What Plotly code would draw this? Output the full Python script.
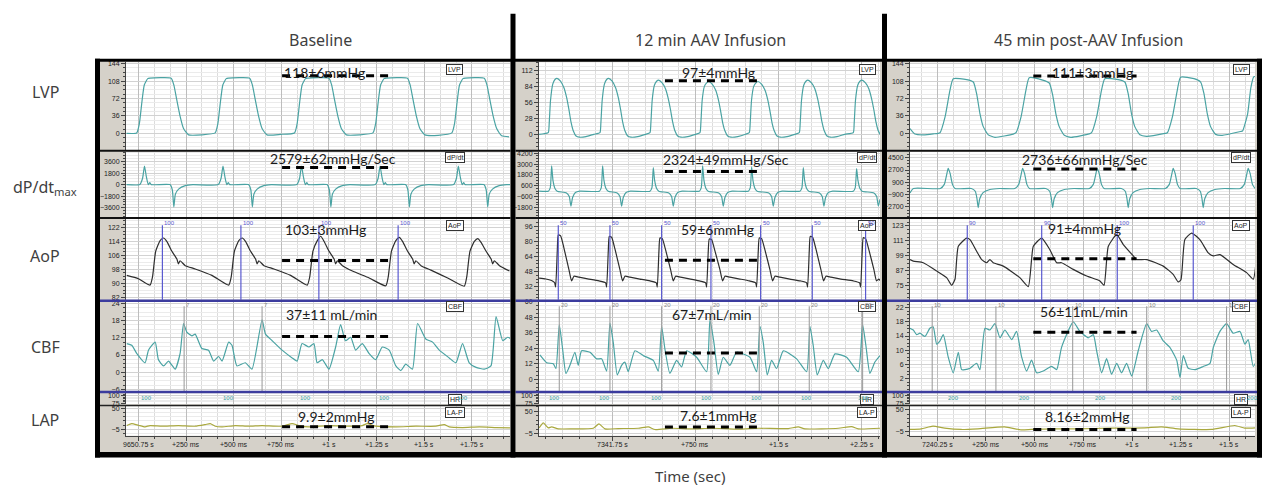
import plotly.graph_objects as go

# ========================= DATA =========================
col_titles = ["Baseline", "12 min AAV Infusion", "45 min post-AAV Infusion"]
row_labels = ["LVP", "dP/dt<sub>max</sub>", "AoP", "CBF", "LAP"]
channel_tags = ["LVP", "dP/dt", "AoP", "CBF", "HR", "LA-P"]
x_title = "Time (sec)"

# time axis (ms relative to the first labelled tick)
base_ticks_ms = [0, 250, 500, 750, 1000, 1250, 1500, 1750]
base_tick_text = ["9650.75 s", "+250 ms", "+500 ms", "+750 ms", "+1 s", "+1.25 s", "+1.5 s", "+1.75 s"]
mid_ticks_ms = [0, 750, 1500, 2250]
mid_tick_text = ["7341.75 s", "+750 ms", "+1.5 s", "+2.25 s"]
post_ticks_ms = [0, 250, 500, 750, 1000, 1250, 1500]
post_tick_text = ["7240.25 s", "+250 ms", "+500 ms", "+750 ms", "+1 s", "+1.25 s", "+1.5 s"]

# summary statistics (LVP, dP/dt, AoP, CBF, LAP)
base_stats = ["118±6mmHg", "2579±62mmHg/Sec", "103±3mmHg", "37±11 mL/min", "9.9±2mmHg"]
mid_stats = ["97±4mmHg", "2324±49mmHg/Sec", "59±6mmHg", "67±7mL/min", "7.6±1mmHg"]
post_stats = ["111±3mmHg", "2736±66mmHg/Sec", "91±4mmHg", "56±11mL/min", "8.16±2mmHg"]
# dashed reference levels (in each panel's axis units) and their time span (ms)
base_levels = [119, 2673, 103, 12.5, 1.8]
mid_levels = [94, 2182, 60, 20.4, 11.4]
post_levels = [118.7, 2856, 96.6, 15.1, -0.8]
base_span = [754, 1315]
mid_span = [475, 1332]
post_span = [493, 1023]

# ---------------- Baseline waveforms ----------------
base_lvp_t = [-62, -9, 5, 17, 31, 49, 61, 172, 186, 201, 219, 237, 263, 333,
              403, 417, 429, 443, 461, 473, 584, 598, 613, 631, 649, 675, 745,
              819, 833, 845, 859, 877, 889, 1000, 1014, 1029, 1047, 1065, 1091, 1161,
              1231, 1245, 1257, 1271, 1289, 1301, 1412, 1426, 1441, 1459, 1477, 1503, 1573,
              1645, 1659, 1671, 1685, 1703, 1715, 1815, 1829, 1844, 1862, 1880, 1906, 1945]
base_lvp_v = [0, 1, 20, 60, 100, 113, 114, 114, 100, 70, 35, 10, -3, -3,
              1, 20, 60, 100, 113, 114, 114, 100, 70, 35, 10, -3, -2,
              1, 20, 60, 100, 113, 114, 114, 100, 70, 35, 10, -3, -3,
              1, 20, 60, 100, 113, 114, 114, 100, 70, 35, 10, -3, -4,
              1, 20, 60, 100, 113, 114, 114, 100, 70, 35, 10, -5, -7]

base_dpdt_t = [-62,
               7, 22, 32, 42, 52, 60, 68, 166, 178, 186, 194, 211, 246, 286,
               419, 434, 444, 454, 464, 472, 480, 578, 590, 598, 606, 623, 658, 698,
               831, 846, 856, 866, 876, 884, 892, 990, 1002, 1010, 1018, 1035, 1070, 1110,
               1243, 1258, 1268, 1278, 1288, 1296, 1304, 1402, 1414, 1422, 1430, 1447, 1482, 1522,
               1654, 1669, 1679, 1689, 1699, 1707, 1715, 1813, 1825, 1833, 1841, 1858, 1893, 1933, 1950]
base_dpdt_v = [0,
               0, 1000, 2900, 1200, 0, 300, 0, 0, -800, -3500, -1500, -700, -150, 0,
               0, 1000, 2900, 1200, 0, 300, 0, 0, -800, -3500, -1500, -700, -150, 0,
               0, 1000, 2900, 1200, 0, 300, 0, 0, -800, -3500, -1500, -700, -150, 0,
               0, 1000, 2900, 1200, 0, 300, 0, 0, -800, -3500, -1500, -700, -150, 0,
               0, 1000, 2900, 1200, 0, 300, 0, 0, -800, -3500, -1500, -700, -150, 0, 0]

base_aop_t = [-61, 0, 61, 74, 91, 114, 132, 149, 175, 202, 210, 219, 246, 298, 386,
              474, 487, 504, 527, 545, 562, 588, 615, 623, 632, 659, 711, 799,
              886, 899, 916, 939, 957, 974, 1000, 1027, 1035, 1044, 1071, 1123, 1211,
              1298, 1311, 1328, 1351, 1369, 1386, 1412, 1439, 1447, 1456, 1483, 1535, 1623,
              1710, 1723, 1740, 1763, 1781, 1798, 1824, 1851, 1859, 1868, 1895, 1947]
base_aop_v = [94.5, 92.6, 88.9, 93.6, 108.5, 114.5, 116, 114.1, 108.5, 103.9, 101.1, 102.9, 100.1, 98.2, 94.5,
              88.9, 93.6, 108.5, 114.5, 116, 114.1, 108.5, 103.9, 101.1, 102.9, 100.1, 98.2, 94.5,
              88.9, 93.6, 108.5, 114.5, 117, 114.1, 108.5, 103.9, 101.1, 102.9, 100.1, 97, 93,
              88.5, 93.6, 108.5, 114.5, 116.4, 114.1, 108.5, 103.9, 101.1, 102.9, 100.1, 97.5, 93,
              88.3, 93.6, 108.5, 114, 115.6, 113.5, 108.5, 103.9, 101.1, 102.9, 100.1, 97]

base_cbf_t = [-61, -35, -9, 35, 53, 88, 105, 132, 158, 193, 219, 237, 254, 281, 298, 333, 368, 395, 421, 439,
              474, 491, 517, 561, 596, 649, 667, 702, 754, 807, 833, 859, 895, 921, 938, 965, 1000, 1035, 1061, 1087,
              1114, 1140, 1175, 1210, 1245, 1280, 1316, 1351, 1377, 1403, 1438, 1465, 1508, 1544, 1579, 1631, 1666,
              1701, 1736, 1772, 1815, 1850, 1877, 1912, 1938, 1956]
base_cbf_v = [10.0, 9.4, 6.6, 3.3, 7.7, 10.5, 4.4, 2.2, 3.9, 1.1, 6.6, 17.0, 14.0, 12.7, 13.3, 8.3, 7.7, 3.9, 5.5, 3.9,
              10.5, 9.4, 2.2, 3.3, 1.1, 18.3, 13.3, 11.0, 7.7, 5.0, 3.9, 10.0, 8.8, 10.0, 3.3, 4.4, 1.1, 8.8, 16.6, 11.0,
              12.2, 7.7, 10.0, 6.6, 4.4, 8.8, 7.7, 2.2, 0.6, 2.8, 1.1, 17.0, 11.6, 10.5, 7.7, 5.0, 3.3,
              10.0, 3.3, 1.7, 1.1, 2.2, 19.4, 11.0, 12.2, 11.6]

base_lap_t = [-61, -35, 0, 35, 61, 123, 210, 298, 351, 377, 403, 439, 509, 579, 649, 754, 807, 842, 895, 1000,
              1105, 1175, 1201, 1245, 1351, 1456, 1561, 1605, 1631, 1701, 1789, 1877, 1950]
base_lap_v = [5.2, 10.2, 6.0, 1.8, 5.2, 3.5, 5.2, 3.5, 7.7, 10.2, 3.5, 1.8, 5.2, 3.5, 5.2, 3.5, 10.2, 5.2, 1.8, 5.2,
              3.5, 5.2, 10.2, 3.5, 1.8, 3.5, 3.5, 7.7, 1.8, 0.1, 1.8, 0.1, -0.8]

base_aop_marks = [126, 538, 947, 1363]
base_aop_mark_lab = ["100", "100", "100", "100"]
base_cbf_marks = [240, 649]
base_cbf_mark_lab = ["7", "7"]
base_hr_t = [44, 474, 877, 1289, 1701]
base_hr_lab = ["100", "100", "100", "100", "100"]

# ---------------- 12 min AAV infusion waveforms ----------------
mid_lvp_t = [-660, -620,
             -577, -569, -557, -537, -517, -499, -467, -437, -412, -392, -372, -352, -327, -297, -237, -167,
             -111, -103, -91, -71, -51, -33, -1, 29, 54, 74, 94, 114, 139, 169, 229, 299,
             340, 348, 360, 380, 400, 418, 450, 480, 505, 525, 545, 565, 590, 620, 680, 750,
             791, 799, 811, 831, 851, 869, 901, 931, 956, 976, 996, 1016, 1041, 1071, 1131, 1201,
             1236, 1244, 1256, 1276, 1296, 1314, 1346, 1376, 1401, 1421, 1441, 1461, 1486, 1516, 1576, 1646,
             1687, 1695, 1707, 1727, 1747, 1765, 1797, 1827, 1852, 1872, 1892, 1912, 1937, 1967, 2027, 2097,
             2174, 2182, 2194, 2214, 2234, 2252, 2284, 2314, 2339, 2359, 2379, 2399, 2420]
mid_lvp_v = [1, 2,
             4, 20, 60, 88, 96, 98, 93, 82, 65, 45, 22, 7, -2, -4, -3, 1,
             4, 20, 60, 88, 96, 98, 93, 82, 65, 45, 22, 7, -2, -4, -3, 1,
             4, 20, 60, 86, 93, 95, 90, 80, 63, 44, 22, 7, -2, -4, -3, 1,
             4, 20, 60, 84, 90, 92.5, 88, 78, 62, 43, 21, 7, -2, -4, -3, 1,
             4, 20, 60, 84, 90, 92.5, 88, 78, 62, 43, 21, 7, -2, -4, -3, 1,
             4, 20, 60, 86, 93, 95, 90, 80, 63, 44, 22, 7, -2, -4, -3, 1,
             4, 20, 60, 86, 93, 95, 90, 80, 63, 44, 22, 7, 0]

mid_dpdt_t = [-660,
              -577, -559, -547, -535, -517, -497, -413, -388, -373, -358, -333, -293,
              -117, -99, -87, -75, -57, -37, 44, 69, 84, 99, 124, 164,
              340, 358, 370, 382, 400, 420, 510, 535, 550, 565, 590, 630,
              785, 803, 815, 827, 845, 865, 961, 986, 1001, 1016, 1041, 1081,
              1227, 1245, 1257, 1269, 1287, 1307, 1412, 1437, 1452, 1467, 1492, 1532,
              1693, 1711, 1723, 1735, 1753, 1773, 1869, 1894, 1909, 1924, 1949, 1989,
              2174, 2192, 2204, 2216, 2234, 2254, 2360, 2385, 2400, 2415]
mid_dpdt_v = [0,
              0, 400, 2800, 1200, 300, 0, -200, -600, -1650, -700, -150, 0,
              0, 400, 2800, 1200, 300, 0, -200, -600, -1650, -700, -150, 0,
              0, 400, 2600, 1200, 300, 0, -200, -600, -1650, -700, -150, 0,
              0, 400, 2800, 1200, 300, 0, -200, -600, -1650, -700, -150, 0,
              0, 400, 2700, 1200, 300, 0, -200, -600, -1650, -700, -150, 0,
              0, 400, 2600, 1200, 300, 0, -200, -600, -1650, -700, -150, 0,
              0, 400, 2500, 1200, 300, 0, -200, -600, -1650, -900]

mid_aop_t = [-660, -600, -540, -520, -511, -496, -487, -466, -436, -391, -367, -346, -301, -211, -120,
             -60, -51, -36, -27, -6, 24, 69, 93, 114, 159, 249, 340,
             397, 406, 421, 430, 451, 481, 526, 550, 571, 616, 706, 785,
             842, 851, 866, 875, 896, 926, 971, 995, 1016, 1061, 1151, 1236,
             1293, 1302, 1317, 1326, 1347, 1377, 1422, 1446, 1467, 1512, 1602, 1696,
             1753, 1762, 1777, 1786, 1807, 1837, 1882, 1906, 1927, 1972, 2062, 2174,
             2231, 2240, 2255, 2264, 2285, 2315, 2360, 2384, 2405, 2420]
mid_aop_v = [41, 40, 38, 36, 31.5, 70, 87, 86, 73, 50, 38, 43, 42, 40, 38,
             36, 31.5, 70, 85.4, 84.5, 72, 50, 38, 43, 42, 40, 38,
             36, 31.5, 70, 83.7, 83, 71, 50, 38, 43, 42, 40, 38,
             36, 31.5, 70, 82.6, 82, 70, 50, 38, 43, 42, 40, 38,
             36, 31.5, 70, 83.7, 83, 71, 50, 38, 43, 42, 40, 38,
             36, 31.5, 70, 85.4, 84.5, 72, 50, 38, 43, 42, 40, 38,
             36, 31.5, 70, 84, 83, 71, 50, 38, 40, 38]

mid_cbf_t = [-653, -592, -532, -508, -478, -448, -418, -382, -337, -307, -277, -201, -141, -96, -51, -21, 9, 45,
             84, 114, 144, 204, 280, 370, 415, 445, 475, 520, 580, 625, 671, 761, 851, 881, 917, 956, 1001, 1061,
             1122, 1242, 1302, 1332, 1362, 1398, 1437, 1482, 1543, 1663, 1753, 1783, 1813, 1849, 1903, 1949, 2009,
             2114, 2219, 2258, 2288, 2324, 2369, 2415]
mid_cbf_v = [18.8, 12.8, 12.0, 8.3, 42.2, 23.4, 4.5, 10.8, 20.9, 10.8, 22.0, 20.9, 15.8, 15.8, 6.3, 43.5, 28.4, 3.3,
             10.8, 13.3, 5.8, 22.0, 18.3, 14.6, 6.3, 41.0, 23.4, 4.5, 14.6, 9.5, 22.0, 17.0, 5.8, 46.0, 28.4, 3.8, 17.0,
             10.8, 20.9, 17.0, 5.8, 41.0, 28.4, 3.3, 14.6, 8.3, 22.0, 15.8, 5.8, 41.0, 25.9, 3.3, 14.6, 8.3, 19.6,
             17.0, 5.8, 42.2, 25.9, 4.5, 13.3, 18.3]

mid_lap_t = [-660, -622, -577, -547, -487, -366, -171, -120, -66, 54, 235, 325, 385, 535, 716, 896, 1136, 1317,
             1587, 1678, 1738, 2039, 2159, 2219, 2415]
mid_lap_v = [9, 21.3, 9, 11.4, 6.5, 6.5, 8.1, 18.8, 6.5, 7.3, 8.1, 11.4, 4.9, 8.1, 6.5, 8.1, 5.7, 8.1,
             7.3, 11.4, 6.5, 8.1, 12.2, 6.5, 8.1]

mid_aop_marks = [-487, -21, 445, 890, 1338, 1804, 2285]
mid_aop_mark_lab = ["50", "50", "50", "50", "50", "50", "50"]
mid_cbf_marks = [-478, -21, 445, 890, 1326, 1777, 2258]
mid_cbf_mark_lab = ["20", "20", "20", "20", "20", "20", "20"]
mid_hr_t = [-517, -66, 400, 851, 1302, 1753, 2264]
mid_hr_lab = ["100", "100", "100", "100", "100", "100", "100"]

# ---------------- 45 min post-AAV infusion waveforms ----------------
post_lvp_t = [-140, -115, -72, -21,
              14, 40, 65, 82, 151, 185, 202, 219, 236, 262, 296, 390,
              404, 430, 455, 472, 541, 575, 592, 609, 626, 652, 686, 780,
              792, 818, 843, 860, 929, 963, 980, 997, 1014, 1040, 1074, 1168,
              1181, 1207, 1232, 1249, 1318, 1352, 1369, 1386, 1403, 1429, 1463, 1557,
              1567, 1593, 1610, 1625, 1640]
post_lvp_v = [10, -1.4, -3, -1,
              1.4, 34, 89, 113, 111, 106, 82, 41, 14, -3, -8, -1.4,
              1.4, 34, 89, 115, 110, 104, 80, 40, 14, -4, -8, -1,
              1.4, 34, 89, 113, 111, 106, 82, 41, 14, -3, -6, 0,
              1.4, 34, 89, 116, 113, 106, 82, 41, 14, -2, -4, 4,
              5, 40, 95, 117, 117]

post_dpdt_t = [-140, -123,
               16, 36, 48, 56, 66, 78, 91, 175, 195, 204, 210, 218, 235, 270, 320,
               398, 418, 430, 438, 448, 460, 473, 557, 577, 586, 592, 600, 617, 652, 702,
               781, 801, 813, 821, 831, 843, 856, 945, 965, 974, 980, 988, 1005, 1040, 1090,
               1171, 1191, 1203, 1211, 1221, 1233, 1246, 1330, 1350, 1359, 1365, 1373, 1390, 1425, 1475,
               1556, 1576, 1588, 1596, 1606, 1618, 1631]
post_dpdt_v = [-650, 0,
               0, 600, 2000, 2950, 2200, 600, 0, 0, -400, -1500, -2800, -1500, -600, -150, 0,
               0, 600, 2000, 2950, 2200, 600, 0, 0, -400, -1500, -2800, -1500, -600, -150, 0,
               0, 600, 2000, 2950, 2200, 600, 0, 0, -400, -1500, -2800, -1500, -600, -150, 0,
               0, 600, 2000, 2950, 2200, 600, 0, 0, -400, -1500, -2800, -1500, -600, -150, 0,
               0, 600, 2000, 2950, 2200, 600, 0]

post_aop_t = [-140, -123, -72, -3, 48, 74, 91, 108, 151, 168, 202, 228, 253, 270, 287, 339, 424, 467, 484, 493,
              536, 578, 613, 638, 698, 767, 835, 856, 878, 921, 955, 1006, 1023, 1075, 1160, 1211, 1237, 1251,
              1271, 1306, 1348, 1391, 1417, 1451, 1519, 1588, 1622, 1640]
post_aop_v = [96, 94.8, 93.5, 86.9, 81.6, 75.5, 80.3, 106.6, 113.2, 111.9, 102.7, 96.0, 93.5, 96.1, 93.5, 90.8,
              81.6, 74.5, 96.0, 106.6, 113.2, 103.9, 93.5, 93.5, 88.2, 82.9, 79.0, 75.5, 106.6, 115.9, 108.0, 99.0,
              96.1, 96.0, 90.8, 84.2, 78.2, 80, 112, 117.2, 111.9, 101.4, 99.0, 100.0, 92.1, 85.6, 80.3, 100]

post_cbf_t = [-140, -123, -106, -89, -63, -38, -21, -3, 14, 31, 56, 82, 108, 125, 142, 168, 202, 219, 245, 270,
              296, 322, 347, 382, 407, 433, 459, 484, 510, 544, 587, 613, 638, 698, 732, 775, 801, 818, 844, 869,
              895, 921, 946, 972, 998, 1032, 1075, 1100, 1126, 1160, 1194, 1229, 1246, 1263, 1288, 1323, 1365,
              1400, 1417, 1451, 1485, 1519, 1554, 1579, 1596, 1622, 1648]
post_cbf_v = [16.2, 15.7, 14.4, 14.8, 13.9, 16.2, 16.6, 11.7, 12.6, 14.4, 8.1, 3.6, 9.4, 4.5, 4.5, 4.9, 6.3, 4.5,
              16.2, 15.7, 17.5, 13.5, 15.7, 13.0, 15.3, 8.1, 4.1, 7.2, 3.6, 4.1, 5.4, 4.5, 10.8, 18.0, 15.3, 13.5,
              14.4, 9.9, 3.6, 7.6, 3.2, 6.3, 3.6, 6.3, 2.7, 9.9, 17.5, 15.3, 15.7, 12.6, 10.8, 7.2, 2.3, 8.5, 4.9,
              4.5, 5.4, 6.3, 10.8, 15.3, 17.5, 14.8, 15.3, 11.7, 13.0, 5.4, 8.1]

post_lap_t = [-140, -82, -22, 38, 123, 209, 346, 431, 483, 603, 722, 893, 1064, 1150, 1236, 1407, 1527, 1578, 1631]
post_lap_v = [-0.8, 0.9, 7.7, 2.6, -0.8, 0.9, 6.0, -2, -0.8, 0.9, 0.9, 2.6, 3.5, 6.0, 0.9, -0.8, 9.4, 2.6, 3.5]

post_aop_marks = [154, 536, 924, 1314]
post_aop_mark_lab = ["90", "90", "100", "100"]
post_cbf_marks = [-26, 301, 695, 1075, 1485]
post_cbf_mark_lab = ["10", "10", "10", "10", "10"]
post_hr_t = [81, 449, 839, 1227, 1620]
post_hr_lab = ["200", "200", "200", "200", "200"]

# ========================= GEOMETRY / STYLE =========================
W, H = 1266, 490


def px(x):
    return x / W


def py(y):
    return 1 - y / H


# (gray left, gray right, plot left, plot right) in pixels
col_geo = [(100, 510.5, 126, 510), (515.5, 882, 539, 880), (887, 1257, 910, 1255)]
# panel bands (top, bottom) px: LVP, dP/dt, AoP, CBF, HR, LAP
bands = [(59, 148), (150, 216), (218, 300), (302, 392.5), (395, 406), (408, 438)]

TEAL = "#4aa3a3"
AOP_C = "#2e2e2e"
LAP_C = "#a9a83e"
BLUE = "#3c3c9e"
MARK_BLUE = "#5a5ad0"
GRAY_BG = "#d5d1c9"
LABEL_C = "#3f3f3f"

cols = [
    dict(xr=(-65, 1950), dt=250, mdt=250 / 3, ticks=base_ticks_ms, text=base_tick_text,
         series={0: (base_lvp_t, base_lvp_v), 1: (base_dpdt_t, base_dpdt_v), 2: (base_aop_t, base_aop_v),
                 3: (base_cbf_t, base_cbf_v), 5: (base_lap_t, base_lap_v)},
         stats=base_stats, levels=base_levels, span=base_span,
         aopm=(base_aop_marks, base_aop_mark_lab), cbfm=(base_cbf_marks, base_cbf_mark_lab),
         hr=(base_hr_t, base_hr_lab),
         y=[((-34, 147), 0, 36, 9), ((-5050, 5120), 0, 1800, 450), ((80.5, 127), 82, 8, 2),
            ((-6.5, 24.6), 0, 6, 1.5), ((72, 108), 100, 25, 5), ((-21, 55), -5, 55, 11)],
         stat_xy=[(324, 69), (333, 157), (325, 229), (331, 315), (336, 418)], tag_x=455),
    dict(xr=(-661, 2415), dt=750, mdt=150, ticks=mid_ticks_ms, text=mid_tick_text,
         series={0: (mid_lvp_t, mid_lvp_v), 1: (mid_dpdt_t, mid_dpdt_v), 2: (mid_aop_t, mid_aop_v),
                 3: (mid_cbf_t, mid_cbf_v), 5: (mid_lap_t, mid_lap_v)},
         stats=mid_stats, levels=mid_levels, span=mid_span,
         aopm=(mid_aop_marks, mid_aop_mark_lab), cbfm=(mid_cbf_marks, mid_cbf_mark_lab),
         hr=(mid_hr_t, mid_hr_lab),
         y=[((-26, 126), 0, 28, 7), ((-2850, 4350), 600, 1200, 300), ((18, 104), 0, 16, 4),
            ((-9, 60), 0, 12, 3), ((72, 108), 100, 25, 5), ((-10.6, 63), -5, 55, 11)],
         stat_xy=[(718, 70), (726, 158), (717, 229), (712, 315), (718, 417)], tag_x=867),
    dict(xr=(-140, 1631), dt=250, mdt=250 / 3, ticks=post_ticks_ms, text=post_tick_text,
         series={0: (post_lvp_t, post_lvp_v), 1: (post_dpdt_t, post_dpdt_v), 2: (post_aop_t, post_aop_v),
                 3: (post_cbf_t, post_cbf_v), 5: (post_lap_t, post_lap_v)},
         stats=post_stats, levels=post_levels, span=post_span,
         aopm=(post_aop_marks, post_aop_mark_lab), cbfm=(post_cbf_marks, post_cbf_mark_lab),
         hr=(post_hr_t, post_hr_lab),
         y=[((-34, 147), 0, 36, 9), ((-4150, 5350), 900, 1800, 450), ((64, 128.5), 63, 12, 3),
            ((-1.5, 23.7), 2, 4, 1), ((72, 108), 100, 25, 5), ((-17, 59.4), -5, 55, 11)],
         stat_xy=[(1092, 70), (1085, 158), (1084, 228), (1084, 312), (1087, 418)], tag_x=1241),
]

tag_y = [66, 156, 225, 307, 401, 414]
series_color = {0: TEAL, 1: TEAL, 2: AOP_C, 3: TEAL, 5: LAP_C}
stat_panels = [0, 1, 2, 3, 5]


def xn(n):
    return "x" if n == 1 else f"x{n}"


def yn(n):
    return "y" if n == 1 else f"y{n}"


fig = go.Figure()
layout = {}
shapes = []
ann = []

# gray instrument background per column, white plot areas
for (gl, gr, pl, pr) in col_geo:
    shapes.append(dict(type="rect", xref="paper", yref="paper", x0=px(gl), x1=px(gr), y0=py(455), y1=py(58),
                       fillcolor=GRAY_BG, line=dict(width=0), layer="below"))
    for (t, b) in bands:
        shapes.append(dict(type="rect", xref="paper", yref="paper", x0=px(pl), x1=px(pr), y0=py(b), y1=py(t),
                           fillcolor="white", line=dict(width=0), layer="below"))

for c, cd in enumerate(cols):
    gl, gr, pl, pr = col_geo[c]
    for p in range(6):
        n = c * 6 + p + 1
        t, b = bands[p]
        yr, t0, dt, mdt = cd["y"][p]
        xkey = "xaxis" if n == 1 else f"xaxis{n}"
        ykey = "yaxis" if n == 1 else f"yaxis{n}"
        bottom = (p == 5)
        layout[xkey] = dict(
            domain=[px(pl), px(pr)], range=list(cd["xr"]), anchor=yn(n),
            tickmode="linear", tick0=0, dtick=cd["dt"], showticklabels=False,
            showgrid=True, gridcolor="#bdbdbd", gridwidth=1, zeroline=False,
            minor=dict(tick0=0, dtick=cd["mdt"], showgrid=True, gridcolor="#dcdcdc",
                       ticks="outside" if bottom else "", ticklen=2, tickcolor="#444"),
            ticks="outside" if bottom else "", ticklen=4, tickcolor="#444",
            showline=bottom, linecolor="#444", linewidth=1, fixedrange=True)
        layout[ykey] = dict(
            domain=[py(b), py(t)], range=list(yr), anchor=xn(n),
            tickmode="linear", tick0=t0, dtick=dt, exponentformat="none",
            showgrid=True, gridcolor="#d2d2d2", gridwidth=1, zeroline=False,
            minor=dict(tick0=t0, dtick=mdt, showgrid=True, gridcolor="#ebebeb",
                       ticks="outside", ticklen=2, tickcolor="#444"),
            ticks="outside", ticklen=4, tickcolor="#444",
            showline=True, linecolor="#444", linewidth=1,
            tickfont=dict(family="Liberation Sans", size=7, color="#222"), fixedrange=True)

        # waveforms
        if p in cd["series"]:
            tt, vv = cd["series"][p]
            fig.add_trace(go.Scatter(x=tt, y=vv, mode="lines", xaxis=xn(n), yaxis=yn(n),
                                     line=dict(color=series_color[p], width=1.2, shape="spline", smoothing=0.5),
                                     hoverinfo="skip"))

        # channel tag box
        ann.append(dict(xref="paper", yref="paper", x=px(cd["tag_x"]), y=py(tag_y[p]), text=channel_tags[p],
                        showarrow=False, font=dict(family="Liberation Sans", size=7, color="#222"),
                        bgcolor="white", bordercolor="#333", borderwidth=1, borderpad=1,
                        xanchor="center", yanchor="middle"))

    # marker lines (AoP in blue, CBF in gray)
    n_aop = c * 6 + 3
    for xv, lab in zip(*cd["aopm"]):
        shapes.append(dict(type="line", xref=xn(n_aop), yref=f"{yn(n_aop)} domain", x0=xv, x1=xv, y0=0, y1=0.92,
                           line=dict(color=MARK_BLUE, width=1.2), layer="above"))
        ann.append(dict(xref=xn(n_aop), yref="paper", x=xv, y=py(222.5), text=lab, showarrow=False,
                        font=dict(family="Liberation Sans", size=6, color=MARK_BLUE), xanchor="left",
                        yanchor="middle"))
    n_cbf = c * 6 + 4
    for xv, lab in zip(*cd["cbfm"]):
        shapes.append(dict(type="line", xref=xn(n_cbf), yref=f"{yn(n_cbf)} domain", x0=xv, x1=xv, y0=0, y1=0.95,
                           line=dict(color="#a0a0a0", width=1.1), layer="above"))
        ann.append(dict(xref=xn(n_cbf), yref="paper", x=xv, y=py(305.5), text=lab, showarrow=False,
                        font=dict(family="Liberation Sans", size=6, color="#888"), xanchor="left",
                        yanchor="middle"))
    n_hr = c * 6 + 5
    for xv, lab in zip(*cd["hr"]):
        ann.append(dict(xref=xn(n_hr), yref="paper", x=xv, y=py(400), text=lab, showarrow=False,
                        font=dict(family="Liberation Sans", size=6, color="#3aa0a0"),
                        xanchor="center", yanchor="middle"))

    # dashed reference levels + statistics text
    for k, p in enumerate(stat_panels):
        n = c * 6 + p + 1
        lev = cd["levels"][k]
        fig.add_trace(go.Scatter(x=cd["span"], y=[lev, lev], mode="lines", xaxis=xn(n), yaxis=yn(n),
                                 line=dict(color="black", width=3, dash="8px,6px"), hoverinfo="skip"))
        sx, sy = cd["stat_xy"][k]
        ann.append(dict(xref="paper", yref="paper", x=px(sx), y=py(sy), text=cd["stats"][k], showarrow=False,
                        font=dict(family="Lato", size=14, color="#1a1a1a"), xanchor="center", yanchor="middle"))

    # x tick labels (bottom panel)
    n_lap = c * 6 + 6
    for xv, lab in zip(cd["ticks"], cd["text"]):
        ann.append(dict(xref=xn(n_lap), yref="paper", x=xv, y=py(447), text=lab, showarrow=False,
                        font=dict(family="Liberation Sans", size=7, color="#222"),
                        xanchor="center", yanchor="middle"))

    # separators inside the column
    for yy, colr, wd in [(149, "#111", 2), (217, "#111", 2), (301, BLUE, 2.5), (393.7, BLUE, 2.5), (407.2, "#222", 1.5)]:
        shapes.append(dict(type="line", xref="paper", yref="paper", x0=px(gl), x1=px(gr), y0=py(yy), y1=py(yy),
                           line=dict(color=colr, width=wd), layer="above"))

# thick black frame
frame = [(95, 1262, 55.5, 58.5), (95, 100, 55.5, 460), (95, 1262, 454.5, 460),
         (510.5, 515.5, 10, 460), (882, 887, 10, 460), (1257, 1262, 55.5, 460)]
for x0, x1, y0, y1 in frame:
    shapes.append(dict(type="rect", xref="paper", yref="paper", x0=px(x0), x1=px(x1), y0=py(y1), y1=py(y0),
                       fillcolor="black", line=dict(width=0), layer="above"))

# column titles, row labels, x title
for xc, ttl in zip([320, 710, 1088], col_titles):
    ann.append(dict(xref="paper", yref="paper", x=px(xc), y=py(37), text=ttl, showarrow=False,
                    font=dict(family="Noto Sans", size=16, color=LABEL_C), xanchor="center", yanchor="middle"))
for yc, lab in zip([89, 186, 256, 348, 422], row_labels):
    ann.append(dict(xref="paper", yref="paper", x=px(45), y=py(yc), text=lab, showarrow=False,
                    font=dict(family="Noto Sans", size=16, color=LABEL_C), xanchor="center", yanchor="middle"))
ann.append(dict(xref="paper", yref="paper", x=px(690), y=py(479), text=x_title, showarrow=False,
                font=dict(family="Noto Sans", size=15, color=LABEL_C), xanchor="center", yanchor="middle"))

layout.update(dict(width=W, height=H, margin=dict(l=0, r=0, t=0, b=0), paper_bgcolor="white",
                   plot_bgcolor="white", showlegend=False, shapes=shapes, annotations=ann, hovermode=False))
fig.update_layout(**layout)
fig.write_html("out.html")
